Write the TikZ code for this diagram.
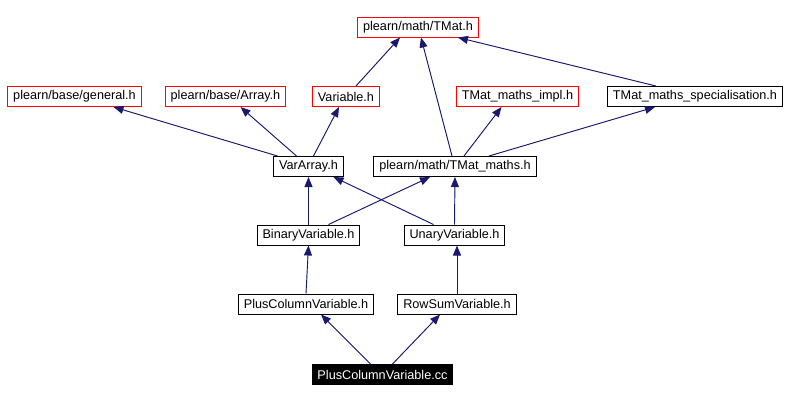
\documentclass[tikz,border=0pt]{standalone}
\usepackage{fontspec}
\setmainfont{Liberation Sans}
\usetikzlibrary{arrows.meta,calc}
\definecolor{edgeblue}{RGB}{25,25,112}
\tikzset{
  hdr/.style={draw, rectangle, line width=0.75pt, minimum height=15pt, inner xsep=4pt, inner ysep=0pt, font=\fontsize{9.5}{11}\selectfont},
  extern/.style={hdr, draw=red},
  incl/.style={-{Triangle[length=7.5pt,width=6pt]}, draw=edgeblue, fill=edgeblue, line width=0.7pt}
}
\begin{document}
\begin{tikzpicture}[x=0.75pt,y=-0.75pt]
\useasboundingbox (0,0) rectangle (790,401);
\node[extern] (tmat) at (418,27) {plearn/math/TMat.h};
\node[extern] (gen) at (74.5,96.5) {plearn/base/general.h};
\node[extern] (arr) at (225.5,96.5) {plearn/base/Array.h};
\node[extern] (var) at (346,96.5) {Variable.h};
\node[extern] (impl) at (517.5,96.5) {TMat\_maths\_impl.h};
\node[hdr] (spec) at (695,96.5) {TMat\_maths\_specialisation.h};
\node[hdr] (va) at (308.5,166.5) {VarArray.h};
\node[hdr] (tm) at (455,166.5) {plearn/math/TMat\_maths.h};
\node[hdr] (bin) at (308.5,235) {BinaryVariable.h};
\node[hdr] (un) at (454.5,235) {UnaryVariable.h};
\node[hdr] (pcv) at (306,304) {PlusColumnVariable.h};
\node[hdr] (rs) at (457,304) {RowSumVariable.h};
\node[hdr, fill=black, text=white] (cc) at (382.5,374.5) {PlusColumnVariable.cc};
\draw[incl] ($(va.north)+(-31,0)$) -- ($(gen.south)+(39,0)$);
\draw[incl] ($(va.north)+(-12,0)$) -- ($(arr.south)+(15,0)$);
\draw[incl] ($(va.north)+(5,0)$) -- ($(var.south)+(-7,0)$);
\draw[incl] ($(var.north)+(10,0)$) -- ($(tmat.south)+(-18,0)$);
\draw[incl] ($(tm.north)+(-3,0)$) -- ($(tmat.south)+(3,0)$);
\draw[incl] ($(tm.north)+(9,0)$) -- ($(impl.south)+(-16,0)$);
\draw[incl] ($(tm.north)+(34,0)$) -- ($(spec.south)+(-40,0)$);
\draw[incl] ($(spec.north)+(-39,0)$) -- ($(tmat.south)+(40,0)$);
\draw[incl] (bin.north) -- (va.south);
\draw[incl] ($(bin.north)+(20,0)$) -- ($(tm.south)+(-25,0)$);
\draw[incl] ($(un.north)+(-21,0)$) -- ($(va.south)+(25,0)$);
\draw[incl] (un.north) -- (tm.south);
\draw[incl] (pcv.north) -- (bin.south);
\draw[incl] (rs.north) -- (rs.north |- un.south);
\draw[incl] ($(cc.north)+(-12,0)$) -- ($(pcv.south)+(15,0)$);
\draw[incl] ($(cc.north)+(10,0)$) -- ($(rs.south)+(-17,0)$);
\end{tikzpicture}
\end{document}
